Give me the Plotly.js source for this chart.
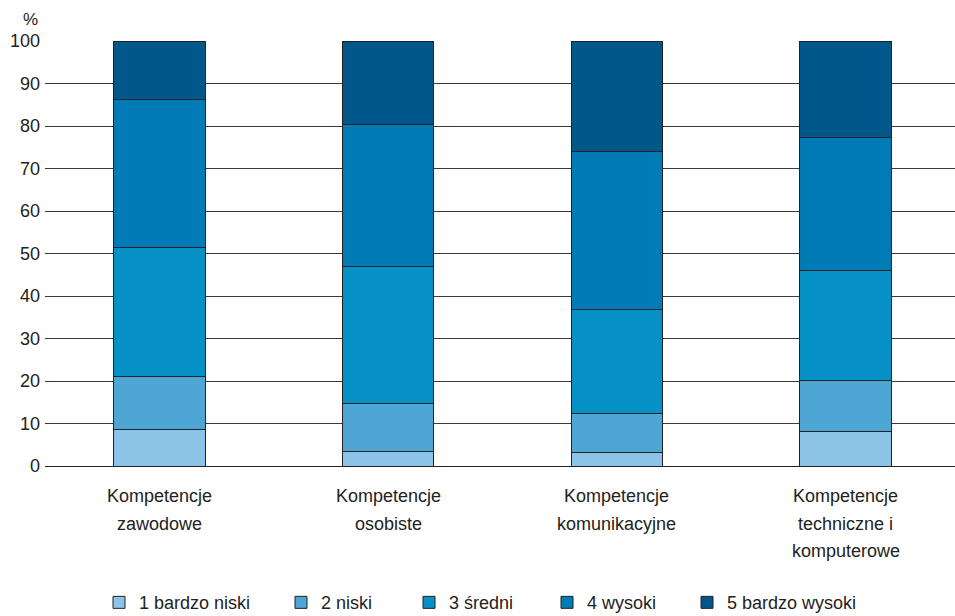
<!DOCTYPE html>
<html>
<head>
<meta charset="utf-8">
<script src="https://cdn.plot.ly/plotly-3.0.1.min.js"></script>
<style>
html, body { margin: 0; padding: 0; overflow: hidden; background: #fff; }
#chart { width: 960px; height: 616px; }
</style>
</head>
<body>
<div id="chart"></div>
<script>
const categories = ["Kompetencje<br>zawodowe", "Kompetencje<br>osobiste", "Kompetencje<br>komunikacyjne", "Kompetencje<br>techniczne i<br>komputerowe"];
const seriesNames = ["1 bardzo niski", "2 niski", "3 średni", "4 wysoki", "5 bardzo wysoki"];
const s1 = [8.7, 3.5, 3.2, 8.2];
const s2 = [12.3, 11.3, 9.1, 12.0];
const s3 = [30.5, 32.1, 24.6, 25.7];
const s4 = [34.8, 33.4, 37.0, 31.5];
const s5 = [13.7, 19.7, 26.1, 22.6];
const yTicks = [0, 10, 20, 30, 40, 50, 60, 70, 80, 90, 100];

const seriesValues = [s1, s2, s3, s4, s5];
const colors = ["#8BC4E6", "#4DA6D3", "#0591C6", "#007BB5", "#00588A"];
const catIdx = categories.map((c, i) => i);
const legendIds = ["legend", "legend2", "legend3", "legend4", "legend5"];
const legendPx = [99, 281, 409, 547, 687];

const traces = seriesValues.map((vals, k) => ({
  type: "bar",
  name: seriesNames[k],
  x: catIdx,
  y: vals,
  width: 0.4,
  legend: legendIds[k],
  marker: { color: colors[k], line: { color: "#222", width: 1 } },
  hoverinfo: "skip"
}));

const font = "Liberation Sans, Arial, sans-serif";
const annotations = [];
categories.forEach((c, i) => {
  c.split("<br>").forEach((line, j) => {
    annotations.push({
      x: i, xref: "x", y: 0, yref: "paper",
      yanchor: "middle", yshift: -30 - j * 27.5,
      text: line, showarrow: false,
      font: { family: font, size: 18, color: "#222" }
    });
  });
});
annotations.push({
  x: -0.006, xref: "paper", y: 1.05, yref: "paper",
  xanchor: "right", yanchor: "middle",
  text: "%", showarrow: false,
  font: { family: font, size: 17, color: "#222" }
});

const plotW = 960 - 45;
const layout = {
  width: 960, height: 616,
  margin: { l: 45, r: 0, t: 41, b: 150, autoexpand: false },
  barmode: "stack",
  paper_bgcolor: "#fff", plot_bgcolor: "#fff",
  font: { family: font, color: "#222" },
  xaxis: {
    range: [-0.5, 3.5], showticklabels: false, showgrid: false,
    zeroline: false, showline: false, ticks: ""
  },
  yaxis: {
    range: [0, 100], tickvals: yTicks, ticktext: yTicks.map(String),
    showgrid: true, gridcolor: "#3a3a3a", gridwidth: 1,
    zeroline: true, zerolinecolor: "#222", zerolinewidth: 1,
    showline: false, ticks: "", ticklabelstandoff: 4,
    tickfont: { family: font, size: 18, color: "#222" }
  },
  showlegend: true,
  annotations: annotations
};
legendIds.forEach((id, k) => {
  layout[id] = {
    orientation: "h", x: (legendPx[k] - 45) / plotW, xanchor: "left",
    y: -0.278, yanchor: "top", bgcolor: "rgba(0,0,0,0)",
    font: { family: font, size: 18, color: "#222" },
    itemclick: false
  };
});

Plotly.newPlot("chart", traces, layout, { staticPlot: true, displayModeBar: false });
</script>
</body>
</html>
